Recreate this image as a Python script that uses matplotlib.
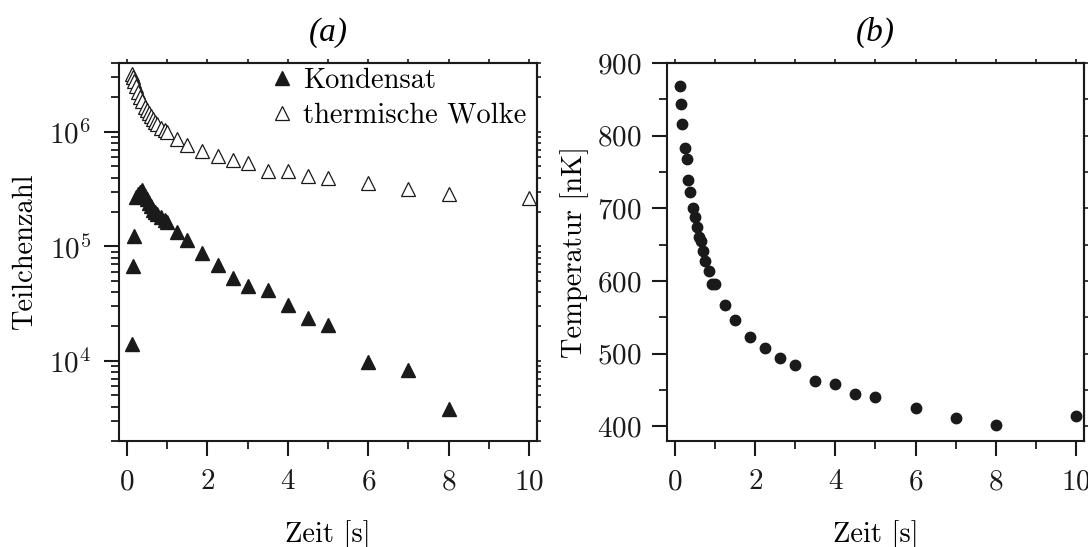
import numpy as np
import matplotlib
matplotlib.use("Agg")
import matplotlib.pyplot as plt
from matplotlib.ticker import MultipleLocator, LogLocator, NullFormatter

plt.rcParams['font.family'] = ['cmr10', 'DejaVu Serif']
plt.rcParams['mathtext.fontset'] = 'cm'
plt.rcParams['axes.formatter.use_mathtext'] = True

# time points [s]
zeit = [0.125, 0.15, 0.175, 0.225, 0.275, 0.325, 0.375, 0.45, 0.5, 0.55, 0.6,
        0.65, 0.7, 0.75, 0.85, 0.95, 1.0, 1.25, 1.5, 1.875, 2.25, 2.625, 3.0,
        3.5, 4.0, 4.5, 5.0, 6.0, 7.0, 8.0, 10.0]

# particle numbers
kondensat = [1.4e4, 6.7e4, 1.24e5, 2.7e5, 2.9e5, 3.0e5, 3.1e5, 2.75e5, 2.6e5,
             2.4e5, 2.25e5, 2.1e5, 2.0e5, 1.93e5, 1.8e5, 1.7e5, 1.65e5,
             1.35e5, 1.14e5, 8.7e4, 6.9e4, 5.3e4, 4.5e4, 4.15e4, 3.1e4,
             2.38e4, 2.06e4, 9.8e3, 8.4e3, 3.8e3, np.nan]
wolke = [3.2e6, 3.0e6, 2.8e6, 2.5e6, 2.25e6, 2.0e6, 1.85e6, 1.65e6, 1.55e6,
         1.45e6, 1.38e6, 1.3e6, 1.22e6, 1.17e6, 1.08e6, 1.03e6, 1.0e6,
         8.6e5, 7.75e5, 6.8e5, 6.2e5, 5.7e5, 5.4e5, 4.6e5, 4.56e5,
         4.14e5, 3.98e5, 3.6e5, 3.2e5, 2.9e5, 2.67e5]

# temperature [nK]
zeit_T = [0.125, 0.15, 0.175, 0.24, 0.29, 0.33, 0.37, 0.45, 0.5, 0.54, 0.6,
          0.65, 0.7, 0.76, 0.84, 0.93, 1.0, 1.25, 1.5, 1.875, 2.25, 2.625, 3.0,
          3.5, 4.0, 4.5, 5.0, 6.0, 7.0, 8.0, 10.0]
temp = [868, 844, 816, 783, 768, 739, 723, 701, 688, 674, 661, 655, 641, 627,
        614, 596, 596, 567, 547, 523, 508, 494, 485, 462, 459, 445, 440, 425,
        411, 402, 415]

ink = '#1a1a1a'
fs = 20.5
fs_tick = 21

fig = plt.figure(figsize=(10.88, 5.47), dpi=100)
ax1 = fig.add_axes([0.1094, 0.1938, 0.3842, 0.6910])
ax2 = fig.add_axes([0.6130, 0.1938, 0.3833, 0.6910])

ax1.plot(zeit, kondensat, '^', color=ink, ms=9.5, mec=ink, label='Kondensat')
ax1.plot(zeit, wolke, '^', color=ink, mfc='white', ms=9.5, mew=0.9,
         label='thermische Wolke')
ax1.set_yscale('log')
ax1.set_ylim(2e3, 4e6)
ax1.set_xlim(-0.2, 10.2)
ax1.yaxis.set_major_locator(LogLocator(base=10, numticks=10))
ax1.yaxis.set_minor_locator(LogLocator(base=10, subs=np.arange(2, 10), numticks=20))
ax1.yaxis.set_minor_formatter(NullFormatter())
ax1.set_ylabel('Teilchenzahl', fontsize=fs, labelpad=8)
ax1.set_title('(a)', fontsize=24, pad=16, family='Liberation Serif', style='italic')
ax1.legend(loc='upper right', bbox_to_anchor=(0.985, 1.0), frameon=False,
           fontsize=fs, handletextpad=0.25, labelspacing=0.3,
           borderaxespad=0.1, handlelength=1.0, borderpad=0.05)

ax2.plot(zeit_T, temp, 'o', color=ink, ms=7.5)
ax2.set_xlim(-0.2, 10.2)
ax2.set_ylim(380, 900)
ax2.yaxis.set_major_locator(MultipleLocator(100))
ax2.yaxis.set_minor_locator(MultipleLocator(50))
ax2.set_ylabel('Temperatur [nK]', fontsize=fs, labelpad=6)
ax2.set_title('(b)', fontsize=24, pad=16, family='Liberation Serif', style='italic')

for ax, ypad in ((ax1, 9), (ax2, 7)):
    ax.xaxis.set_major_locator(MultipleLocator(2))
    ax.xaxis.set_minor_locator(MultipleLocator(1))
    ax.set_xlabel('Zeit [s]', fontsize=fs, labelpad=18)
    for s in ax.spines.values():
        s.set_linewidth(1.5)
        s.set_color(ink)
    ax.tick_params(which='major', direction='out', length=11, width=1.5,
                   color=ink, labelsize=fs_tick, labelcolor=ink)
    ax.tick_params(which='minor', direction='out', length=6, width=1.3, color=ink)
    ax.tick_params(axis='x', which='major', pad=9)
    ax.tick_params(axis='y', which='major', pad=ypad)

    top = ax.secondary_xaxis('top')
    top.xaxis.set_major_locator(MultipleLocator(2))
    top.xaxis.set_minor_locator(MultipleLocator(1))
    top.tick_params(which='both', direction='out', length=3, width=1.2,
                    color=ink, labeltop=False)
    right = ax.secondary_yaxis('right')
    if ax is ax1:
        right.yaxis.set_major_locator(LogLocator(base=10, numticks=10))
        right.yaxis.set_minor_locator(LogLocator(base=10, subs=np.arange(2, 10), numticks=20))
    else:
        right.yaxis.set_major_locator(MultipleLocator(100))
        right.yaxis.set_minor_locator(MultipleLocator(50))
    right.tick_params(which='both', direction='out', length=3, width=1.2,
                      color=ink, labelright=False)
    for sec in (top, right):
        for s in sec.spines.values():
            s.set_linewidth(1.5)
            s.set_color(ink)

fig.savefig('out.png', dpi=100)
